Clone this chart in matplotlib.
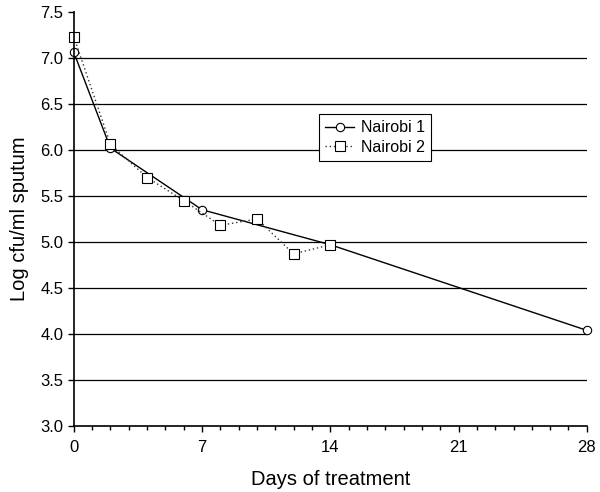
import matplotlib.pyplot as plt
from matplotlib.ticker import MultipleLocator

plt.rcParams['font.family'] = ['Liberation Sans', 'DejaVu Sans']

days_1 = [0, 2, 7, 14, 28]
nairobi_1 = [7.06, 6.02, 5.35, 4.97, 4.04]
days_2 = [0, 2, 4, 6, 8, 10, 12, 14]
nairobi_2 = [7.23, 6.06, 5.70, 5.45, 5.18, 5.25, 4.87, 4.97]

fig = plt.figure(figsize=(6, 4.92), dpi=100)
ax = fig.add_axes([0.123, 0.134, 0.855, 0.842])

for yv in [3.5, 4.0, 4.5, 5.0, 5.5, 6.0, 6.5, 7.0]:
	ax.axhline(yv, color='black', lw=0.9, zorder=0)

ax.plot(days_1, nairobi_1, color='black', lw=1, marker='o', ms=6,
	mfc='white', mec='black', mew=0.8, label='Nairobi 1', clip_on=False)
ax.plot(days_2, nairobi_2, color='#333333', lw=1, ls=(0, (1, 2)), marker='s', ms=6.5,
	mfc='white', mec='black', mew=0.8, label='Nairobi 2', clip_on=False)

ax.set_xlim(0, 28)
ax.set_ylim(3.0, 7.5)
ax.set_xticks([0, 7, 14, 21, 28])
ax.xaxis.set_minor_locator(MultipleLocator(1))
ax.set_yticks([3.0, 3.5, 4.0, 4.5, 5.0, 5.5, 6.0, 6.5, 7.0, 7.5])
ax.set_yticklabels(['%.1f' % v for v in ax.get_yticks()])
ax.tick_params(axis='both', which='major', labelsize=12, length=4, width=1, direction='out')
ax.tick_params(axis='x', which='minor', length=3, width=1, direction='out')
ax.tick_params(axis='x', pad=6)

for s in ['top', 'right']:
	ax.spines[s].set_visible(False)
for s in ['left', 'bottom']:
	ax.spines[s].set_linewidth(1.2)

ax.set_xlabel('Days of treatment', fontsize=14.5, labelpad=11)
ax.set_ylabel('Log cfu/ml sputum', fontsize=14.5, labelpad=8)

leg = ax.legend(loc='upper left', bbox_to_anchor=(0.478, 0.754), fontsize=11.5,
	frameon=True, fancybox=False, edgecolor='black', framealpha=1, borderaxespad=0,
	handlelength=1.8, handletextpad=0.4, borderpad=0.4, labelspacing=0.3)
leg.get_frame().set_linewidth(0.8)

plt.savefig('out.png', dpi=100)
